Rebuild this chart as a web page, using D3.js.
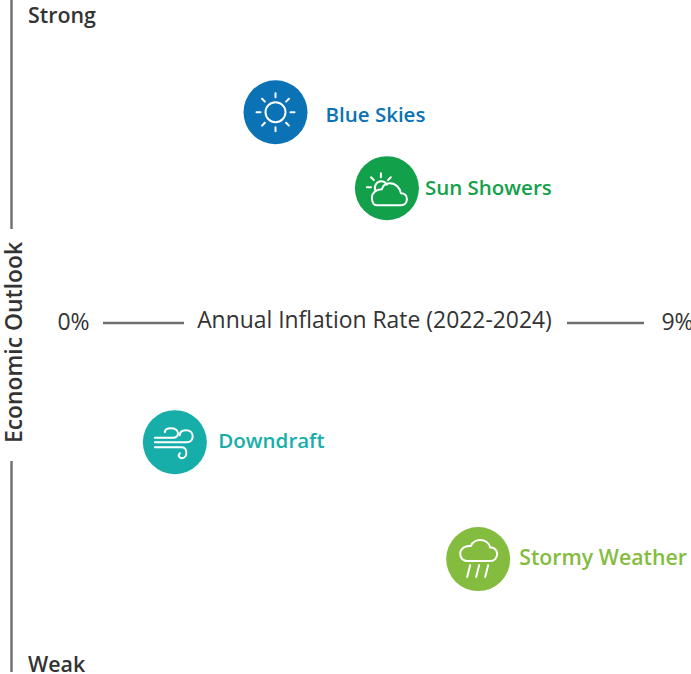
<!DOCTYPE html>
<html>
<head>
<meta charset="utf-8">
<script src="https://cdn.jsdelivr.net/npm/d3@7"></script>
<style>
html, body { margin: 0; padding: 0; background: #fff; overflow: hidden; }
svg { display: block; font-family: "Open Sans", sans-serif; }
</style>
</head>
<body>
<svg id="chart" width="691" height="674"></svg>
<script>
// values
const names = ["Blue Skies", "Sun Showers", "Downdraft", "Stormy Weather"];
const inflation = [3.01, 4.67, 1.51, 6.03];
const outlook = [83.3, 72.0, 34.2, 16.8];
const colors = ["#0a72b5", "#12a04a", "#17aeaa", "#84bc3f"];
const icons = ["sun", "sunCloud", "wind", "rain"];
const xTickLabels = ["0%", "9%"];
const xTitle = "Annual Inflation Rate (2022-2024)";
const yTitle = "Economic Outlook";
const yEnds = ["Strong", "Weak"];

let svg = d3.select("svg#chart");

let x = d3.scaleLinear().domain([0, 9]).range([73.5, 677.5]);
let y = d3.scaleLinear().domain([0, 100]).range([672, 0]);

const axisColor = "#6d6e71";
const textColor = "#333333";

// axis rules, broken around the titles
let rules = [
    [11.5, 0, 11.5, 229], [11.5, 461, 11.5, 672],
    [103, 323, 184, 323], [567, 323, 644, 323]
];
svg.selectAll("line.rule")
    .data(rules)
    .enter()
    .append("line")
    .attr("class", "rule")
    .attr("x1", d => d[0]).attr("y1", d => d[1])
    .attr("x2", d => d[2]).attr("y2", d => d[3])
    .attr("stroke", axisColor)
    .attr("stroke-width", 2.4);

// x ticks and title
svg.selectAll("text.xtick")
    .data(xTickLabels)
    .enter()
    .append("text")
    .attr("class", "xtick")
    .attr("x", (d, i) => x(i * 9))
    .attr("y", 330)
    .attr("text-anchor", "middle")
    .attr("font-size", 23)
    .attr("fill", textColor)
    .text(d => d);

svg.append("text")
    .attr("x", 374.5)
    .attr("y", 328)
    .attr("text-anchor", "middle")
    .attr("font-size", 22.9)
    .attr("fill", textColor)
    .text(xTitle);

// y ends and title
svg.selectAll("text.yend")
    .data(yEnds)
    .enter()
    .append("text")
    .attr("class", "yend")
    .attr("x", 28)
    .attr("y", (d, i) => i === 0 ? 22.5 : 672)
    .attr("font-size", 21.4)
    .attr("font-weight", 600)
    .attr("fill", textColor)
    .text(d => d);

svg.append("text")
    .attr("transform", "translate(22,342.5) rotate(-90)")
    .attr("text-anchor", "middle")
    .attr("font-size", 22.9)
    .attr("font-weight", 600)
    .attr("fill", textColor)
    .text(yTitle);

// icon outlines, in a box centred on the circle
const rays = (cx, cy, r1, r2, angles) => angles.map(a => {
    let t = a * Math.PI / 180;
    return `M${cx + r1 * Math.cos(t)},${cy + r1 * Math.sin(t)}L${cx + r2 * Math.cos(t)},${cy + r2 * Math.sin(t)}`;
}).join("");

const iconPaths = {
    sun: [
        d3.arc()({ innerRadius: 10, outerRadius: 10, startAngle: 0, endAngle: 2 * Math.PI }),
        rays(0, 0, 15, 19, [0, 45, 90, 135, 180, 225, 270, 315])
    ],
    sunCloud: [
        "M-11.5,2.5C-13.5,-2 -10,-7 -6,-7C-3,-7 -1,-5.5 0,-3.5",
        "M-10,17H14C18,17 20,14 20,11C20,8 18,5 14,5C13,0 9,-5 3,-5C-1,-5 -4,-3 -5,1C-11,1 -15,5 -15,9C-15,14 -13,17 -10,17Z",
        rays(-6, -1, 10, 14, [180, 225, 270, 315])
    ],
    wind: [
        "M-20,-4.5H-1C5,-4.5 5,-14 -4,-14C-8,-14 -10,-12 -10,-10",
        "M-20,0H12C20,0 20,-12 11,-12C7,-12 5,-10 5,-7",
        "M-20,5H7C13,5 13,16 7,16C4,16 3,13 5,11"
    ],
    rain: [
        "M-11,2H12C16,2 19,-1 19,-5C19,-9 16,-12 12,-11.5C11,-16 7,-19 2,-19C-3,-19 -6,-16 -7.5,-13C-13,-14 -18,-10 -18,-5.5C-18,-1 -15,2 -11,2Z",
        "M-8,6L-11,18M1,6L-2,18M10,6L7,18"
    ]
};

// a group per scenario
let scenario = svg.selectAll(".scenario")
    .data(names.map((name, i) => ({ name, v: inflation[i], o: outlook[i], color: colors[i], icon: icons[i] })))
    .enter()
    .append("g")
    .attr("class", "scenario")
    .attr("transform", d => `translate(${x(d.v)},${y(d.o)})`);

scenario.append("circle")
    .attr("r", 32)
    .attr("fill", d => d.color);

scenario.each(function (d) {
    let g = d3.select(this);
    iconPaths[d.icon].forEach(p => {
        g.append("path")
            .attr("d", p)
            .attr("fill", "none")
            .attr("stroke", "#fff")
            .attr("stroke-width", 2)
            .attr("stroke-linecap", "round")
            .attr("stroke-linejoin", "round");
    });
});

// label offsets from the circle centre
const labelDx = { "Blue Skies": 50, "Sun Showers": 38, "Downdraft": 43.5, "Stormy Weather": 41 };
const labelDy = { "Blue Skies": 10, "Sun Showers": 7, "Downdraft": 6, "Stormy Weather": 6 };
const labelSize = { "Blue Skies": 20.5, "Sun Showers": 20.5, "Downdraft": 20.5, "Stormy Weather": 21.3 };
scenario.append("text")
    .attr("x", d => labelDx[d.name])
    .attr("y", d => labelDy[d.name])
    .attr("font-size", d => labelSize[d.name])
    .attr("font-weight", 600)
    .attr("fill", d => d.color)
    .text(d => d.name);
</script>
</body>
</html>
